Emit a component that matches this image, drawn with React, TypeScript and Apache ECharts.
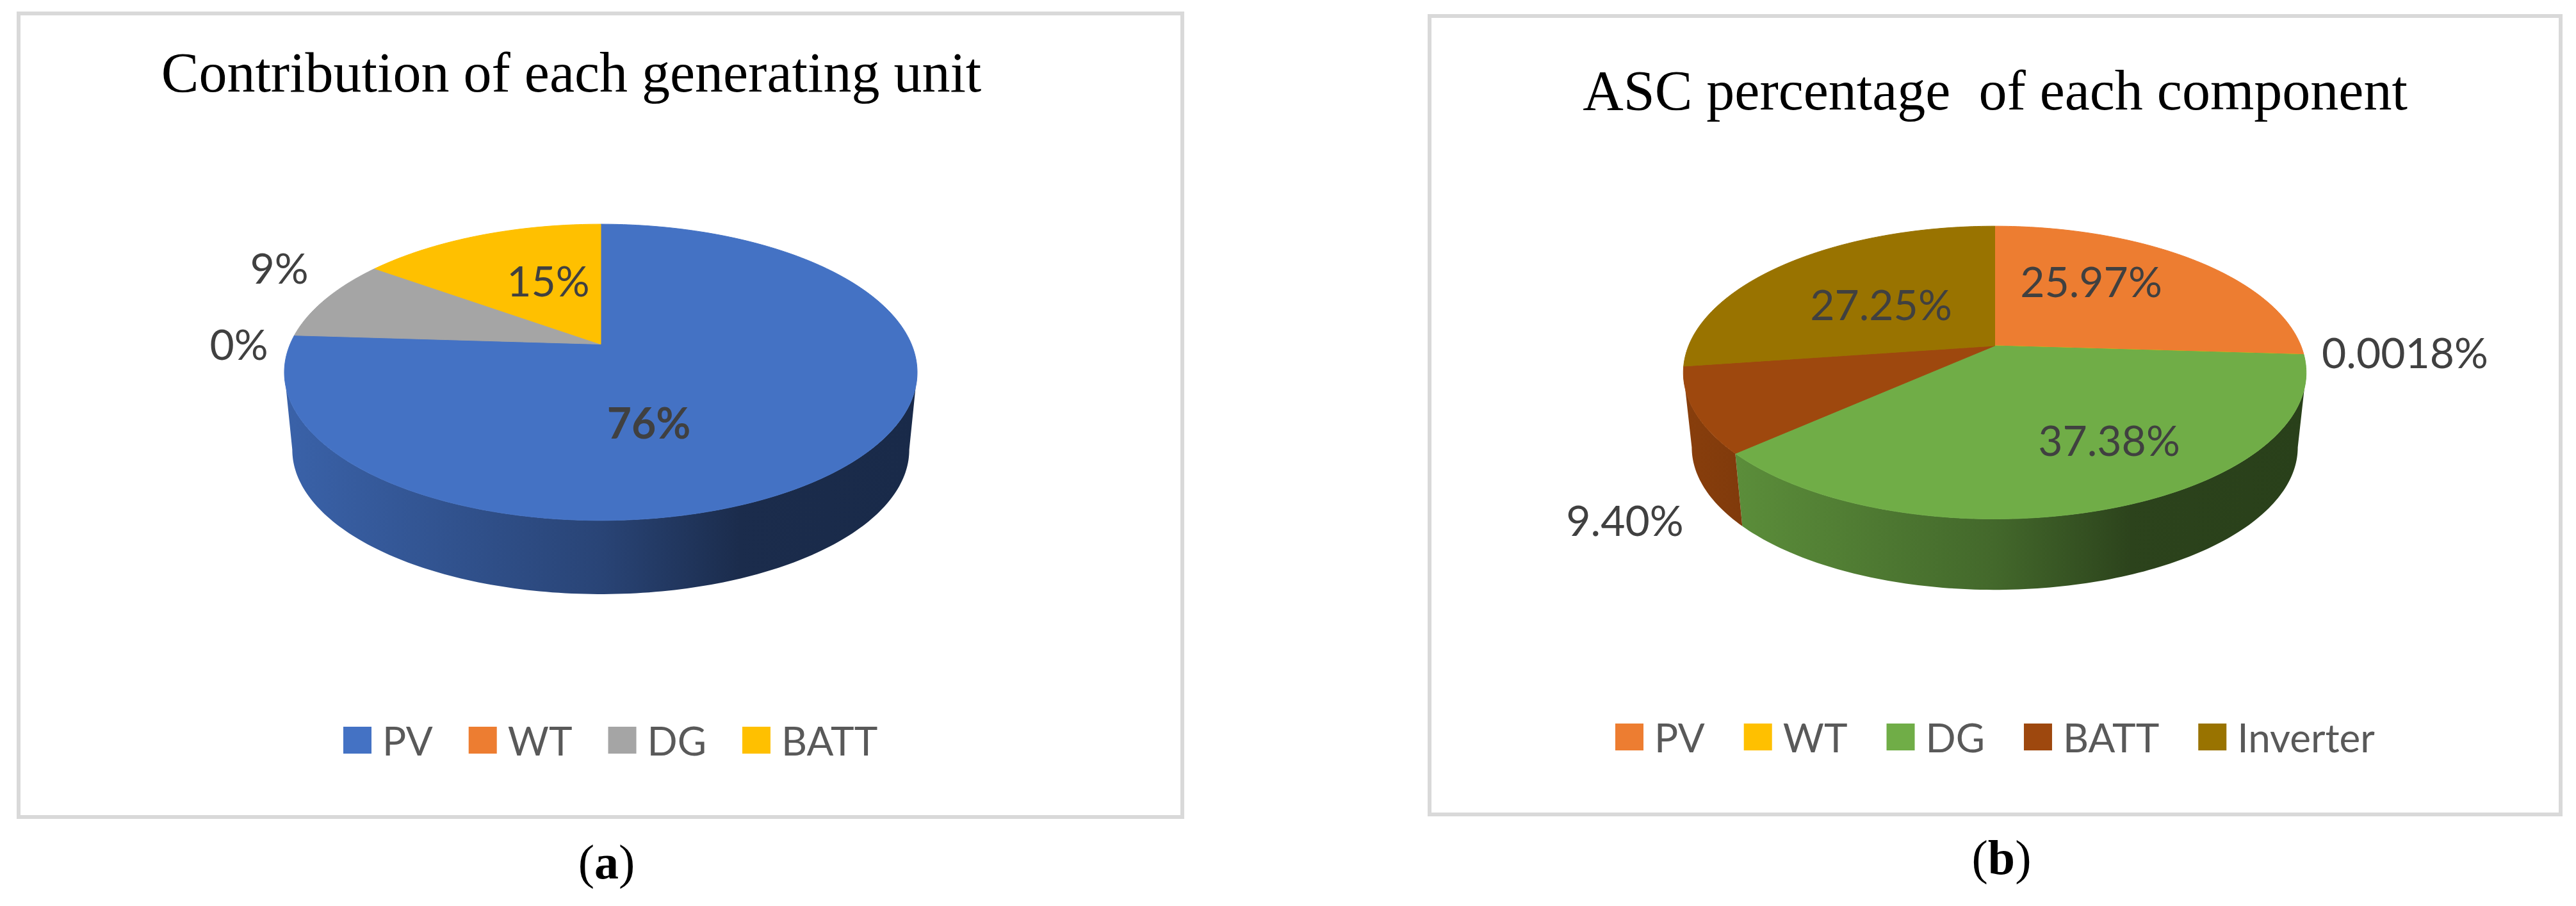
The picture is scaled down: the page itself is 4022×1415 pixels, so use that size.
import React, { useEffect, useRef } from "react";
import * as echarts from "echarts";

const titleA = "Contribution of each generating unit";
const titleB = "ASC percentage  of each component";
const categoriesA = ["PV", "WT", "DG", "BATT"];
const valuesA = [76, 0, 9, 15];
const labelsA = ["76%", "0%", "9%", "15%"];
const categoriesB = ["PV", "WT", "DG", "BATT", "Inverter"];
const valuesB = [25.97, 0.0018, 37.38, 9.4, 27.25];
const labelsB = ["25.97%", "0.0018%", "37.38%", "9.40%", "27.25%"];

const colorsA = ["#4472C4", "#ED7D31", "#A5A5A5", "#FFC000"];
const colorsB = ["#ED7D31", "#FFC000", "#70AD47", "#9E480E", "#997300"];

// Projection of each 3D pie: apex, horizontal/vertical scale, perspective, extrusion
const pieA = { cx: 938, apexY: 537.5, sx: 485, b: 223, a: 0.19, scale: 0.975, offset: 122 };
const pieB = { cx: 3114.5, apexY: 540, sx: 478, b: 221, a: 0.183, scale: 0.973, offset: 118 };
const labelPosA = [[1013, 659], [373, 536], [436, 417], [856, 437]];
const labelPosB = [[3265, 438], [3755, 549], [3293, 686], [2537, 811], [2937, 474]];

const SANS = "Lato";
const SERIF = "'Liberation Serif'";

function top(p: any, deg: number) {
  const t = (deg * Math.PI) / 180;
  const u = Math.sin(t), v = Math.cos(t), d = 1 + p.a * v;
  return [p.cx + (p.sx * u) / d, p.apexY - (p.b * v) / d];
}
function bottom(p: any, deg: number) {
  const t = (deg * Math.PI) / 180;
  const u = Math.sin(t), v = Math.cos(t), d = 1 + p.a * v;
  return [p.cx + (p.scale * p.sx * u) / d, p.apexY + p.offset - (p.scale * p.b * v) / d];
}
function shade(hex: string, f: number) {
  const n = parseInt(hex.slice(1), 16);
  const c = [(n >> 16) & 255, (n >> 8) & 255, n & 255].map((x) => Math.round(x * f));
  return `rgb(${c[0]},${c[1]},${c[2]})`;
}
function arc(from: number, to: number) {
  const out: number[] = [];
  const n = Math.max(1, Math.ceil(to - from));
  for (let i = 0; i <= n; i++) out.push(from + ((to - from) * i) / n);
  return out;
}

function sliceSeries(p: any, names: string[], values: number[], labels: string[], colors: string[], labelPos: number[][]) {
  const total = values.reduce((s, v) => s + v, 0);
  const w = p.sx / Math.sqrt(1 - p.a * p.a);
  const theta0 = (Math.acos(-p.a) * 180) / Math.PI;
  let acc = 0;
  return names.map((name, i) => {
    const start = (acc / total) * 360;
    acc += values[i];
    const end = (acc / total) * 360;
    const color = colors[i];
    return {
      type: "custom",
      name,
      coordinateSystem: "none",
      silent: true,
      itemStyle: { color },
      data: [values[i]],
      renderItem: () => {
        const children: any[] = [];
        const s0 = Math.max(start, theta0), s1 = Math.min(end, 360 - theta0);
        if (s1 > s0) {
          const fwd = arc(s0, s1);
          const pts = [...fwd.map((d) => top(p, d)), ...fwd.slice().reverse().map((d) => bottom(p, d))];
          const fill = new echarts.graphic.LinearGradient(
            p.cx - w, 0, p.cx + w, 0,
            [
              { offset: 0, color: shade(color, 0.86) },
              { offset: 0.5, color: shade(color, 0.6) },
              { offset: 0.72, color: shade(color, 0.39) },
              { offset: 1, color: shade(color, 0.37) },
            ],
            true
          );
          children.push({ type: "polygon", shape: { points: pts }, style: { fill } });
        }
        if (end > start) {
          const pts = [[p.cx, p.apexY], ...arc(start, end).map((d) => top(p, d))];
          children.push({ type: "polygon", z2: 2, shape: { points: pts }, style: { fill: color, stroke: color, lineWidth: 1 } });
        }
        children.push({
          type: "text",
          z2: 10,
          style: {
            x: labelPos[i][0],
            y: labelPos[i][1],
            text: labels[i],
            align: "center",
            verticalAlign: "middle",
            fill: "#404040",
            font: `${labels[i] === "76%" ? "bold " : ""}66px ${SANS}`,
          },
        });
        return { type: "group", children };
      },
    };
  });
}

function App() {
  const ref = useRef<HTMLDivElement>(null);
  useEffect(() => {
    const chart = echarts.init(ref.current!, undefined, { renderer: "svg" });
    const legendText = { color: "#595959", fontFamily: SANS, fontSize: 62, padding: [0, 0, 0, 12] };
    const titleStyle = { fontFamily: SERIF, fontWeight: "normal", fontSize: 88, color: "#000" };
    const captionStyle = {
      fontFamily: SERIF, fontWeight: "normal", fontSize: 76, color: "#000",
      rich: { b: { fontFamily: SERIF, fontWeight: "bold", fontSize: 76, color: "#000" } },
    };
    chart.setOption({
      animation: false,
      backgroundColor: "#fff",
      title: [
        { text: titleA, left: 887, top: 64, textAlign: "center", textStyle: titleStyle },
        { text: titleB, left: 3110, top: 92, textAlign: "center", textStyle: titleStyle },
        { text: "({b|a})", left: 942, top: 1303, textAlign: "center", textStyle: captionStyle },
        { text: "({b|b})", left: 3120, top: 1296, textAlign: "center", textStyle: captionStyle },
      ],
      legend: [
        {
          left: 531, top: 1120, itemWidth: 44, itemHeight: 42, itemGap: 56, icon: "rect", selectedMode: false,
          textStyle: legendText,
          data: categoriesA.map((name, i) => ({ name, itemStyle: { color: colorsA[i] } })),
        },
        {
          left: 2517, top: 1115, itemWidth: 44, itemHeight: 42, itemGap: 61, icon: "rect", selectedMode: false,
          textStyle: legendText,
          data: categoriesB.map((name, i) => ({ name, itemStyle: { color: colorsB[i] } })),
        },
      ],
      graphic: [
        { type: "rect", shape: { x: 29, y: 21, width: 1817, height: 1255 }, style: { fill: "none", stroke: "#d9d9d9", lineWidth: 6 } },
        { type: "rect", shape: { x: 2232, y: 25, width: 1766, height: 1247 }, style: { fill: "none", stroke: "#d9d9d9", lineWidth: 6 } },
      ],
      series: [
        ...sliceSeries(pieA, categoriesA, valuesA, labelsA, colorsA, labelPosA),
        ...sliceSeries(pieB, categoriesB, valuesB, labelsB, colorsB, labelPosB),
      ],
    });
    return () => chart.dispose();
  }, []);
  return <div ref={ref} style={{ position: "absolute", left: 0, top: 0, width: 4022, height: 1415 }} />;
}

export default App;
